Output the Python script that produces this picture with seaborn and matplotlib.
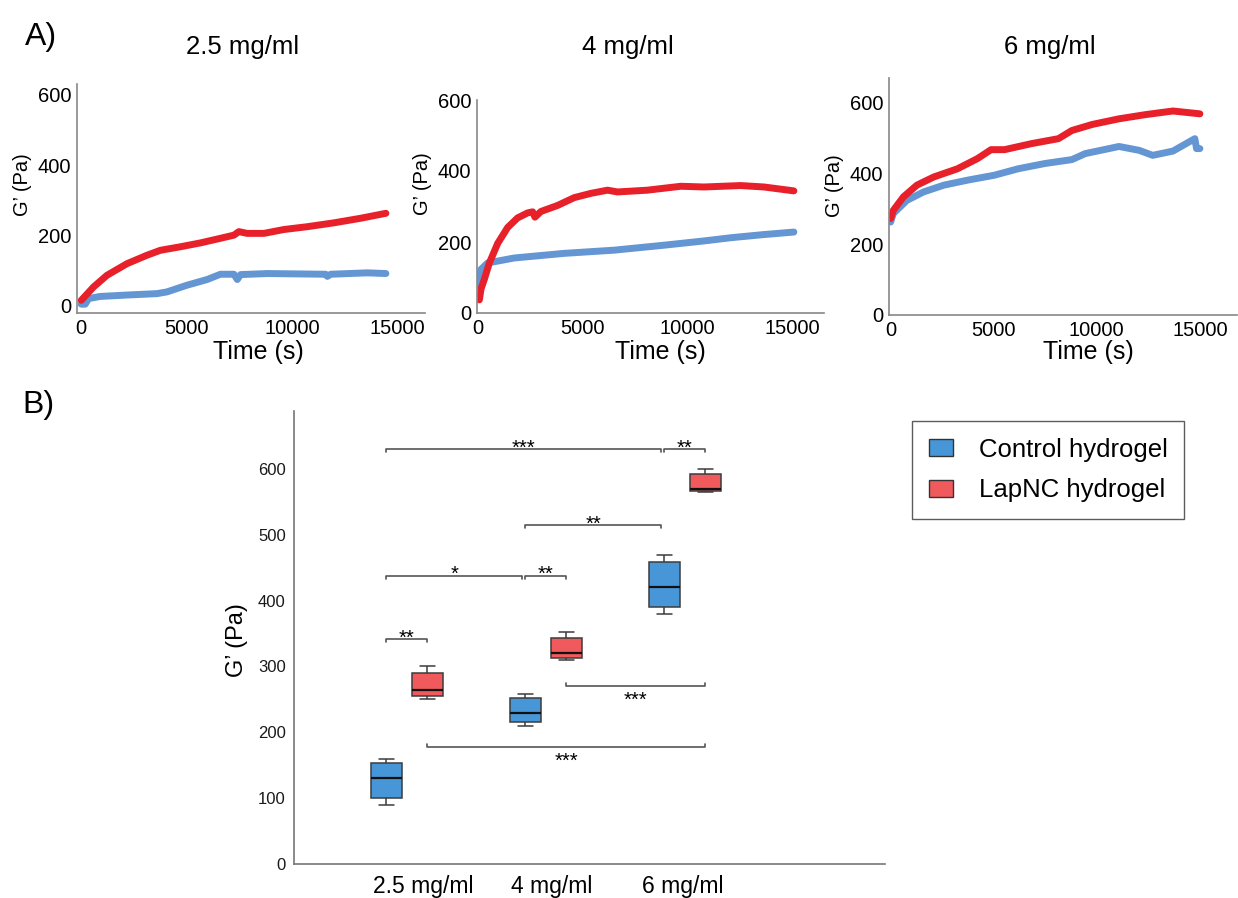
import numpy as np
import pandas as pd
import matplotlib
matplotlib.use("Agg")
import matplotlib.pyplot as plt
import seaborn as sns
from matplotlib.patches import Patch
from matplotlib.transforms import ScaledTranslation

sns.set_theme(style="white")
plt.rcParams['font.family'] = ['Liberation Sans', 'DejaVu Sans']
plt.rcParams['text.color'] = 'black'
plt.rcParams['axes.labelcolor'] = 'black'
plt.rcParams['xtick.color'] = 'black'
plt.rcParams['ytick.color'] = 'black'

# ---------------- Data: panel A (time sweeps) ----------------
t_red_25 = [0, 586, 1220, 2170, 3120, 3754, 4704, 5655, 6600, 7240, 7475, 7870, 8664, 9614, 10723, 11990, 13257, 14445]
g_red_25 = [16, 54, 87, 120, 144, 158, 168, 179, 192, 201, 211, 206, 206, 217, 225, 236, 249, 263]
t_blue_25 = [0, 190, 350, 900, 2170, 3595, 4070, 5020, 5970, 6600, 7240, 7400, 7555, 8820, 11590, 11670, 11830, 13570, 14445]
g_blue_25 = [5, 5, 21, 27, 31, 35, 40, 59, 75, 90, 90, 75, 89, 92, 90, 84, 90, 94, 92]

t_red_4 = [0, 63, 143, 300, 540, 936, 1413, 1889, 2365, 2603, 2714, 3000, 3794, 4587, 5381, 6175, 6651, 8079, 9667, 10778, 12524, 13635, 15063]
g_red_4 = [40, 37, 68, 95, 141, 196, 241, 268, 282, 285, 270, 286, 303, 325, 337, 346, 341, 346, 357, 355, 359, 355, 344]
t_blue_4 = [0, 143, 460, 1730, 4111, 6492, 8873, 10778, 12048, 13635, 15063]
g_blue_4 = [78, 123, 141, 155, 168, 177, 191, 203, 212, 221, 228]

t_red_6 = [0, 130, 620, 1275, 2090, 3235, 4216, 4870, 5523, 6830, 8137, 8790, 9771, 11078, 12386, 13693, 15000]
g_red_6 = [272, 295, 333, 366, 389, 412, 441, 466, 466, 483, 497, 520, 537, 553, 565, 575, 567]
t_blue_6 = [0, 130, 784, 1600, 2582, 3725, 5033, 6176, 7484, 8790, 9444, 11078, 12059, 12712, 13693, 14755, 14837, 15000]
g_blue_6 = [262, 286, 323, 347, 366, 380, 394, 412, 427, 438, 455, 475, 464, 450, 462, 497, 469, 469]

panel_titles = ["2.5 mg/ml", "4 mg/ml", "6 mg/ml"]
time_ticks = [0, 5000, 10000, 15000]
g_ticks = [0, 200, 400, 600]

# ---------------- Data: panel B (box plot summary points) ----------------
concentrations = ["2.5 mg/ml", "4 mg/ml", "6 mg/ml"]
groups = ["Control hydrogel", "LapNC hydrogel"]
control_25 = [90, 100, 130, 153, 160]
control_4 = [210, 215, 230, 252, 258]
control_6 = [380, 390, 420, 458, 470]
lapnc_25 = [250, 255, 265, 290, 300]
lapnc_4 = [310, 313, 320, 344, 352]
lapnc_6 = [565, 567, 570, 592, 600]
b_ticks = [0, 100, 200, 300, 400, 500, 600]

# significance comparisons: (cat_a, group_a, cat_b, group_b, height, label, direction)
comparisons = [
    (0, 0, 2, 0, 630, "***", "down"),
    (2, 0, 2, 1, 630, "**", "down"),
    (1, 0, 2, 0, 515, "**", "down"),
    (0, 0, 1, 0, 438, "*", "down"),
    (1, 0, 1, 1, 438, "**", "down"),
    (0, 0, 0, 1, 341, "**", "down"),
    (1, 1, 2, 1, 270, "***", "up"),
    (0, 1, 2, 1, 178, "***", "up"),
]

RED = "#E8202A"
BLUE = "#6396D2"
BOX_BLUE = "#4797D8"
BOX_RED = "#F05A5C"

W, H = 1238, 898
fig = plt.figure(figsize=(W / 100, H / 100), dpi=100)


def rect(l, t, r, b):
    return [l / W, 1 - b / H, (r - l) / W, (b - t) / H]


def ftext(x, y, s, **kw):
    fig.text(x / W, 1 - y / H, s, **kw)


a_axes = [
    (rect(77, 84, 425, 313), (-200, 16300), (-20, 630)),
    (rect(477, 100, 824, 313), (-50, 16500), (0, 578)),
    (rect(889, 78, 1237, 315), (-80, 16800), (0, 668)),
]
series = [
    (t_blue_25, g_blue_25, t_red_25, g_red_25),
    (t_blue_4, g_blue_4, t_red_4, g_red_4),
    (t_blue_6, g_blue_6, t_red_6, g_red_6),
]
for (pos, xl, yl), (tb, gb, tr, gr) in zip(a_axes, series):
    ax = fig.add_axes(pos)
    sns.lineplot(x=tb, y=gb, ax=ax, color=BLUE, linewidth=5, sort=False,
                 estimator=None, solid_capstyle="round")
    sns.lineplot(x=tr, y=gr, ax=ax, color=RED, linewidth=5, sort=False,
                 estimator=None, solid_capstyle="round")
    ax.set_xlim(*xl)
    ax.set_ylim(*yl)
    ax.set_xticks(time_ticks)
    ax.set_yticks(g_ticks)
    ax.tick_params(length=0, labelsize=14.5, pad=4, labelcolor="black")
    for s in ["top", "right"]:
        ax.spines[s].set_visible(False)
    for s in ["left", "bottom"]:
        ax.spines[s].set_color("#888888")
        ax.spines[s].set_linewidth(1.2)
    ax.set_xlabel("")
    ax.set_ylabel("")
    ax.grid(False)

# panel A texts
ftext(25, 37, "A)", fontsize=23, ha="left", va="center")
for x, s in zip([243, 628, 1050], panel_titles):
    ftext(x, 47, s, fontsize=18.5, ha="center", va="center")
for x in [258, 660, 1088]:
    ftext(x, 352, "Time (s)", fontsize=18, ha="center", va="center")
for x, y in [(22, 185), (423, 184), (834, 186)]:
    ftext(x, y, "G\u2019 (Pa)", fontsize=14.5, ha="center", va="center", rotation=90)

# ---------------- Panel B ----------------
rows = []
for conc, c_vals, l_vals in zip(concentrations, [control_25, control_4, control_6],
                                [lapnc_25, lapnc_4, lapnc_6]):
    for v in c_vals:
        rows.append((conc, groups[0], v))
    for v in l_vals:
        rows.append((conc, groups[1], v))
df = pd.DataFrame(rows, columns=["conc", "group", "value"])

axb = fig.add_axes(rect(294, 411, 885, 864))
BOX_W = 0.59
sns.boxplot(data=df, x="conc", y="value", hue="group", order=concentrations,
            hue_order=groups, palette=[BOX_BLUE, BOX_RED], saturation=1,
            width=BOX_W, gap=0.25, whis=(0, 100), linecolor="#3c3c3c",
            linewidth=1.1, ax=axb, legend=False,
            medianprops=dict(color="#111111", linewidth=1.6))
axb.set_xlim(-0.813, 3.44)
axb.set_ylim(0, 688)
axb.set_yticks(b_ticks)
axb.set_xlabel("")
axb.set_ylabel("")
for s in ["top", "right"]:
    axb.spines[s].set_visible(False)
for s in ["left", "bottom"]:
    axb.spines[s].set_color("#777777")
    axb.spines[s].set_linewidth(1.2)
axb.tick_params(axis="y", direction="in", length=5, width=1, color="#777777",
                labelsize=12, pad=6, labelcolor="#1a1a1a")
axb.tick_params(axis="x", length=0, labelsize=16.5, pad=8, labelcolor="black")
for lab, dx in zip(axb.get_xticklabels(), [16, 6, -2]):
    lab.set_transform(lab.get_transform() + ScaledTranslation(dx / 100, 0, fig.dpi_scale_trans))

# significance brackets
off = BOX_W / 4
tip = 4.5
for ca, ga, cb, gb_, h, lab, d in comparisons:
    xa = ca + (-off if ga == 0 else off)
    xb = cb + (-off if gb_ == 0 else off)
    if (cb, gb_) == (2, 0) or ((cb, gb_) == (1, 0) and (ca, ga) == (0, 0)):
        xb -= 0.025
    if d == "down":
        axb.plot([xa, xa, xb, xb], [h - tip, h, h, h - tip], color="#555555", lw=1.2)
        axb.text((xa + xb) / 2, h - 7, lab, ha="center", va="baseline", fontsize=14.5,
                 color="black")
    else:
        axb.plot([xa, xa, xb, xb], [h + tip, h, h, h + tip], color="#555555", lw=1.2)
        axb.text((xa + xb) / 2, h - 30, lab, ha="center", va="baseline", fontsize=14.5,
                 color="black")

ftext(22, 405, "B)", fontsize=23, ha="left", va="center")
ftext(237, 640, "G\u2019 (Pa)", fontsize=17, ha="center", va="center", rotation=90)

handles = [Patch(facecolor=BOX_BLUE, edgecolor="#333333", linewidth=1),
           Patch(facecolor=BOX_RED, edgecolor="#333333", linewidth=1)]
leg = fig.legend(handles, groups, loc="upper left",
                 bbox_to_anchor=(912 / W, 1 - 421 / H), borderaxespad=0,
                 fontsize=18.5, frameon=True, fancybox=False, edgecolor="#333333",
                 handlelength=0.95, handleheight=0.65, handletextpad=1.0,
                 labelspacing=0.65, borderpad=0.65)
leg.get_frame().set_linewidth(1.0)

fig.savefig("out.png", dpi=100, facecolor="white")
